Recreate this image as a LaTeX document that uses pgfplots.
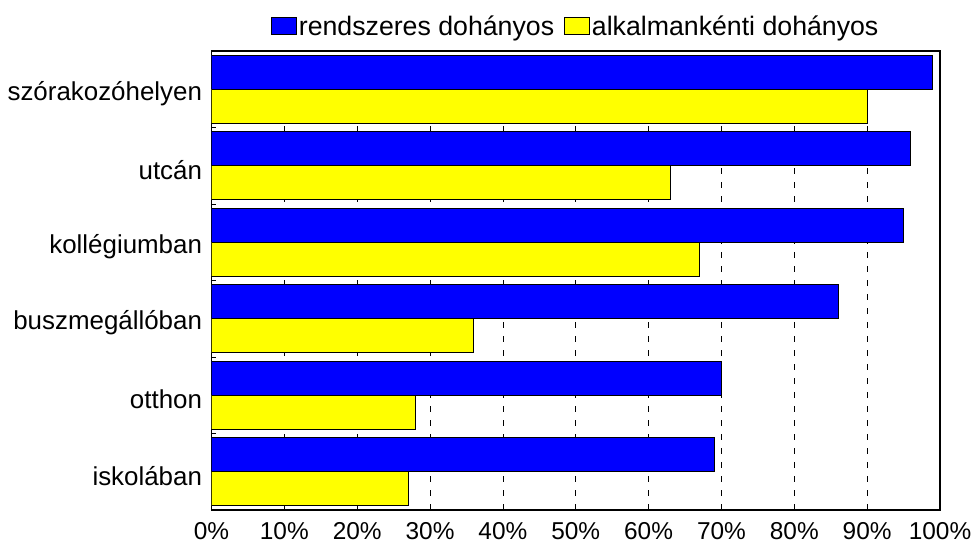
\documentclass[border=0pt]{standalone}
\usepackage{pgfplots}
\pgfplotsset{compat=1.18}
\usepackage{fontspec}
\setmainfont{Liberation Sans}
\usetikzlibrary{calc}
\definecolor{barblue}{RGB}{0,0,255}
\definecolor{baryellow}{RGB}{255,255,0}
\begin{document}
\begin{tikzpicture}
\begin{axis}[
  scale only axis,
  width=728.5bp, height=459bp,
  xbar, bar width=34bp,
  xmin=0, xmax=100,
  ymin=-0.5, ymax=5.5,
  xtick={0,10,...,100},
  xticklabels={0\%,10\%,20\%,30\%,40\%,50\%,60\%,70\%,80\%,90\%,100\%},
  ytick={0.5,1.5,2.5,3.5,4.5},
  yticklabels={},
  extra y ticks={0,1,2,3,4,5},
  extra y tick labels={iskolában,otthon,buszmegállóban,kollégiumban,utcán,szórakozóhelyen},
  extra y tick style={tick style={draw=none}, grid=none},
  xtick pos=bottom, ytick pos=left,
  tick align=inside,
  major tick length=5bp,
  every tick/.style={black, line width=0.8bp},
  xmajorgrids,
  major x grid style={black, line width=0.8bp, dash pattern=on 6bp off 8bp},
  axis line style={black, line width=1.2bp},
  tick label style={font=\fontsize{24.5}{28}\selectfont},
  yticklabel style={font=\fontsize{26}{30}\selectfont, xshift=-6bp, yshift=-4bp},
  xticklabel style={yshift=-9bp},
  legend style={draw=none, fill=none, at={(0.5,1)}, anchor=south, yshift=12bp,
    legend columns=2, font=\fontsize{26.8}{30}\selectfont,
    /tikz/every even column/.append style={column sep=8bp},
    inner sep=0pt, cells={anchor=west}},
  legend image code/.code={\draw[#1, line width=0.8bp] (0bp,-8.5bp) rectangle (25bp,8.5bp);},
]
\addplot[draw=black, line width=0.8bp, fill=barblue, bar shift=17bp]
  coordinates {(69,0) (70,1) (86,2) (95,3) (96,4) (99,5)};
\addlegendentry{rendszeres dohányos}
\addplot[draw=black, line width=0.8bp, fill=baryellow, bar shift=-17bp]
  coordinates {(27,0) (28,1) (36,2) (67,3) (63,4) (90,5)};
\addlegendentry{alkalmankénti dohányos}
\coordinate (ll) at (rel axis cs:0,0);
\end{axis}
\pgfresetboundingbox
\path ($(ll)+(-211.5bp,-39bp)$) rectangle ++(975bp,549bp);
\end{tikzpicture}
\end{document}
